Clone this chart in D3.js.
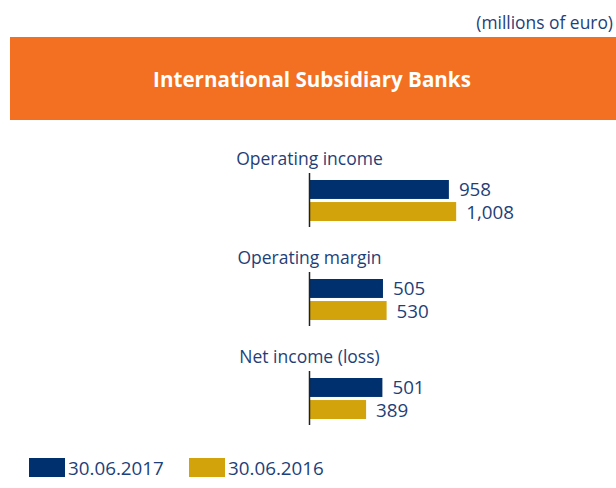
<!DOCTYPE html>
<html>
<head>
<meta charset="utf-8">
<script src="https://cdn.jsdelivr.net/npm/d3@7"></script>
<style>
  body { margin: 0; background: #fff; }
  text { font-family: "Open Sans", sans-serif; }
</style>
</head>
<body>
<div id="chart"></div>
<script>
// values in millions of euro
var categories = ["Operating income", "Operating margin", "Net income (loss)"];
var series = ["30.06.2017", "30.06.2016"];
var values2017 = [958, 505, 501];
var values2016 = [1008, 530, 389];
var valueLabels2017 = ["958", "505", "501"];
var valueLabels2016 = ["1,008", "530", "389"];

var colors = {"30.06.2017": "#00306e", "30.06.2016": "#d2a30b"};
var textColor = "#1f3f78";

var width = 616, height = 488;

var svg = d3.select("#chart")
  .append("svg")
    .attr("width", width)
    .attr("height", height);

// unit note
svg.append("text")
  .attr("x", 613)
  .attr("y", 29)
  .attr("text-anchor", "end")
  .attr("fill", textColor)
  .style("font-size", "17.4px")
  .text("(millions of euro)");

// orange banner
svg.append("rect")
  .attr("x", 10)
  .attr("y", 37)
  .attr("width", 606)
  .attr("height", 83)
  .attr("fill", "#f36f21");

svg.append("text")
  .attr("x", 312)
  .attr("y", 87)
  .attr("text-anchor", "middle")
  .attr("fill", "#fff")
  .style("font-size", "20.6px")
  .style("font-weight", "bold")
  .text("International Subsidiary Banks");

// scales
var x0 = 309.5;
var x = d3.scaleLinear()
  .domain([0, 1000])
  .range([x0, x0 + 145.5]);

var groupY = d3.scaleBand()
  .domain(categories)
  .range([173, 470])
  .paddingInner(0)
  .paddingOuter(0);

var barY = d3.scaleBand()
  .domain(series)
  .range([7, 48])
  .paddingInner(0.14);

var rows = categories.map(function(c, i) {
  return {
    cat: c,
    bars: [
      {s: series[0], v: values2017[i], label: valueLabels2017[i]},
      {s: series[1], v: values2016[i], label: valueLabels2016[i]}
    ]
  };
});

var g = svg.selectAll(".grp")
  .data(rows)
  .enter()
  .append("g")
    .attr("class", "grp")
    .attr("transform", function(d) { return "translate(0," + groupY(d.cat) + ")"; });

g.append("text")
  .attr("x", x0)
  .attr("y", -8)
  .attr("text-anchor", "middle")
  .attr("fill", textColor)
  .style("font-size", "17.5px")
  .text(function(d) { return d.cat; });

g.selectAll("rect")
  .data(function(d) { return d.bars; })
  .enter()
  .append("rect")
    .attr("x", x(0))
    .attr("y", function(d) { return barY(d.s); })
    .attr("width", function(d) { return x(d.v) - x(0); })
    .attr("height", barY.bandwidth())
    .attr("fill", function(d) { return colors[d.s]; });

g.selectAll(".val")
  .data(function(d) { return d.bars; })
  .enter()
  .append("text")
    .attr("class", "val")
    .attr("x", function(d) { return x(d.v) + 10; })
    .attr("y", function(d) { return barY(d.s) + barY.bandwidth() / 2 + 7; })
    .attr("fill", textColor)
    .style("font-size", "18.8px")
    .text(function(d) { return d.label; });

// vertical axis line
g.append("line")
  .attr("x1", x0).attr("x2", x0)
  .attr("y1", 0).attr("y2", 54)
  .attr("stroke", "#222")
  .attr("stroke-width", 1.5);

// legend
var legend = svg.append("g")
  .attr("transform", "translate(29,458)");

var lx = [0, 160];
series.forEach(function(s, i) {
  legend.append("rect")
    .attr("x", lx[i])
    .attr("y", 0)
    .attr("width", 36)
    .attr("height", 19)
    .attr("fill", colors[s]);
  legend.append("text")
    .attr("x", lx[i] + 39)
    .attr("y", 17)
    .attr("fill", textColor)
    .style("font-size", "18.8px")
    .text(s);
});
</script>
</body>
</html>
